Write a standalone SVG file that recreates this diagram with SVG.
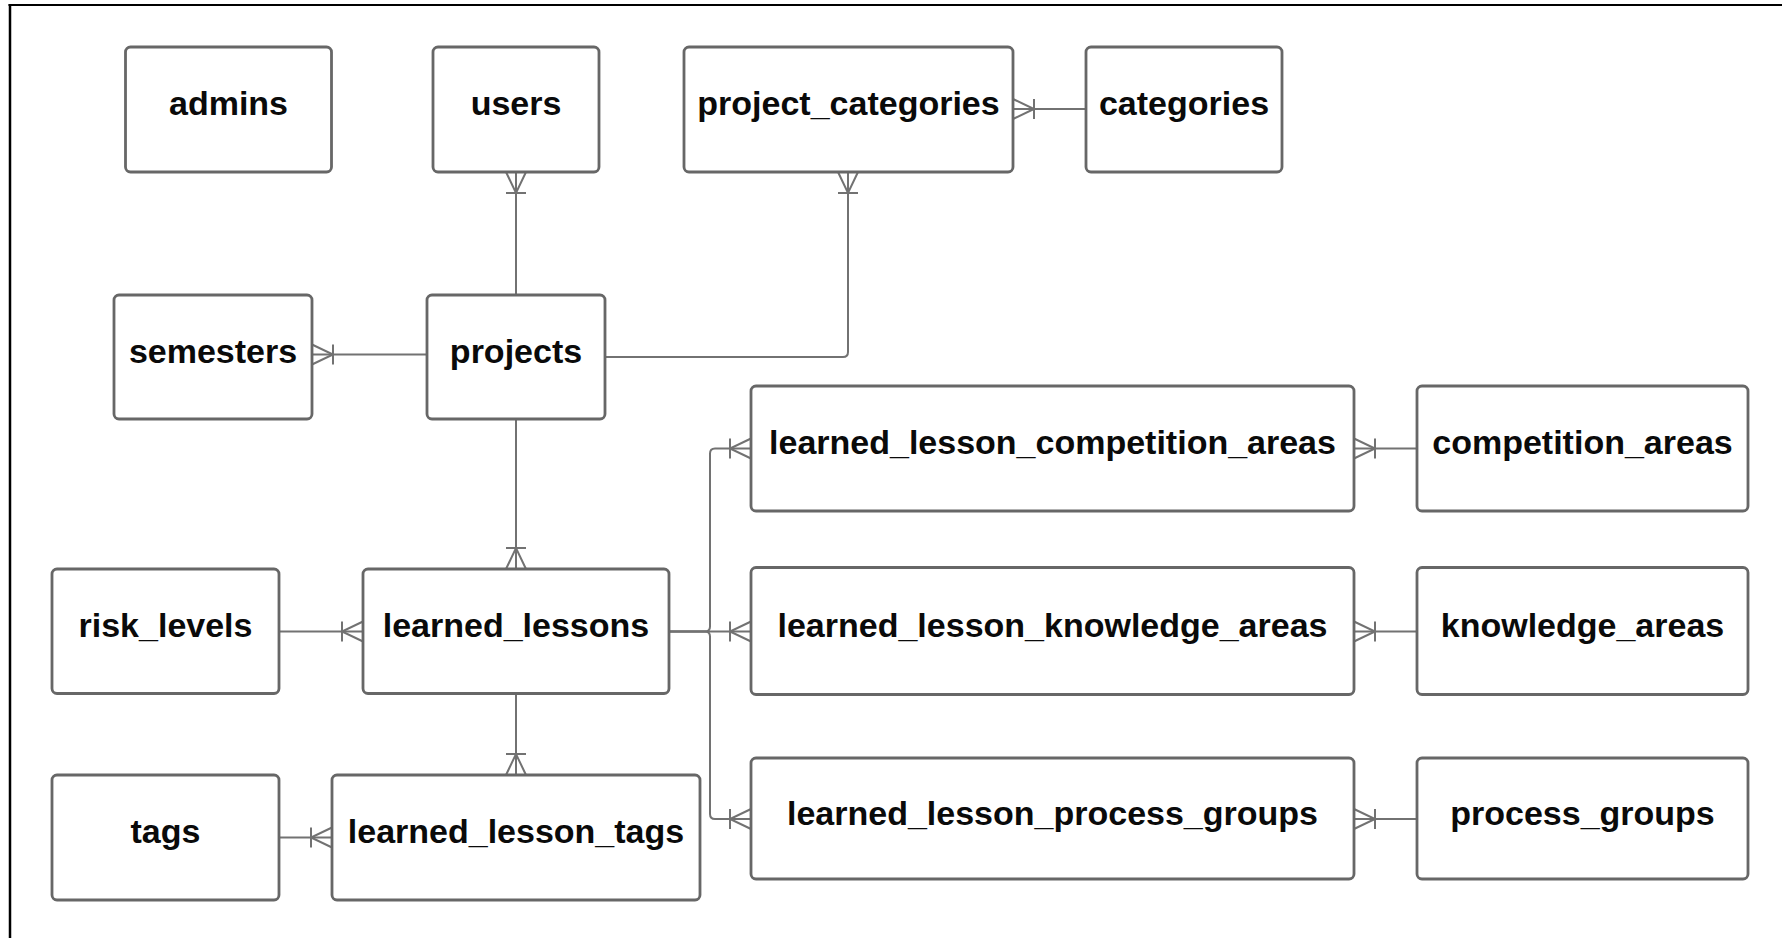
<svg xmlns="http://www.w3.org/2000/svg" width="1782" height="938" viewBox="0 0 1782 938">
  <style>
    .box { fill: #ffffff; stroke: #676767; stroke-width: 2.8; }
    .lbl { font-family: "Liberation Sans", Arial, Helvetica, sans-serif; font-weight: bold; font-size: 34px; fill: #0a0a0a; text-anchor: middle; }
    .edge { fill: none; stroke: #727272; stroke-width: 2; marker-start: url(#crow); }
    .frame { stroke: #000000; fill: none; }
  </style>
  <defs>
    <!-- one-or-many crow's foot, drawn at the path start pointing away from the entity -->
    <marker id="crow" markerUnits="userSpaceOnUse" markerWidth="30" markerHeight="30" viewBox="-5 -15 30 30" refX="0" refY="0" orient="auto" overflow="visible">
      <path d="M0,-10 L21,0 L0,10 M21,-10 V10" fill="none" stroke="#727272" stroke-width="2"/>
    </marker>
  </defs>

  <rect width="1782" height="938" fill="#ffffff"/>

  <!-- outer frame edges -->
  <line class="frame" x1="8.5" y1="5" x2="1782" y2="5" stroke-width="2.2"/>
  <line class="frame" x1="10" y1="4" x2="10" y2="938" stroke-width="2.5"/>

  <!-- relationships -->
  <g id="connectors">
    <path class="edge" d="M516,172 V295"/>
    <path class="edge" d="M848,172 V352 Q848,357 843,357 H605"/>
    <path class="edge" d="M1013,109 H1086"/>
    <path class="edge" d="M312,354.5 H427"/>
    <path class="edge" d="M516,569 V419"/>
    <path class="edge" d="M363,631.5 H279"/>
    <path class="edge" d="M516,775 V693"/>
    <path class="edge" d="M332,837.5 H279"/>
    <path class="edge" d="M751,448.5 H715 Q710,448.5 710,453.5 V626.5 Q710,631.5 705,631.5 H669"/>
    <path class="edge" d="M751,631.5 H669"/>
    <path class="edge" d="M751,819 H715 Q710,819 710,814 V636.5 Q710,631.5 705,631.5 H669"/>
    <path class="edge" d="M1354,448.5 H1417"/>
    <path class="edge" d="M1354,631.5 H1417"/>
    <path class="edge" d="M1354,819 H1417"/>
  </g>

  <!-- entities -->
  <g id="admins">
    <rect class="box" x="125.5" y="47" width="206" height="125" rx="5"/>
    <text class="lbl" x="228.5" y="115">admins</text>
  </g>
  <g id="users">
    <rect class="box" x="433" y="47" width="166" height="125" rx="5"/>
    <text class="lbl" x="516" y="115">users</text>
  </g>
  <g id="project_categories">
    <rect class="box" x="684" y="47" width="329" height="125" rx="5"/>
    <text class="lbl" x="848.5" y="115">project_categories</text>
  </g>
  <g id="categories">
    <rect class="box" x="1086" y="47" width="196" height="125" rx="5"/>
    <text class="lbl" x="1184" y="115">categories</text>
  </g>
  <g id="semesters">
    <rect class="box" x="114" y="295" width="198" height="124" rx="5"/>
    <text class="lbl" x="213" y="362.5">semesters</text>
  </g>
  <g id="projects">
    <rect class="box" x="427" y="295" width="178" height="124" rx="5"/>
    <text class="lbl" x="516" y="362.5">projects</text>
  </g>
  <g id="risk_levels">
    <rect class="box" x="52" y="569" width="227" height="124.5" rx="5"/>
    <text class="lbl" x="165.5" y="637">risk_levels</text>
  </g>
  <g id="learned_lessons">
    <rect class="box" x="363" y="569" width="306" height="124.5" rx="5"/>
    <text class="lbl" x="516" y="637">learned_lessons</text>
  </g>
  <g id="tags">
    <rect class="box" x="52" y="775" width="227" height="125" rx="5"/>
    <text class="lbl" x="165.5" y="843">tags</text>
  </g>
  <g id="learned_lesson_tags">
    <rect class="box" x="332" y="775" width="368" height="125" rx="5"/>
    <text class="lbl" x="516" y="843">learned_lesson_tags</text>
  </g>
  <g id="learned_lesson_competition_areas">
    <rect class="box" x="751" y="386" width="603" height="125" rx="5"/>
    <text class="lbl" x="1052.5" y="453.5">learned_lesson_competition_areas</text>
  </g>
  <g id="learned_lesson_knowledge_areas">
    <rect class="box" x="751" y="567.5" width="603" height="127" rx="5"/>
    <text class="lbl" x="1052.5" y="637">learned_lesson_knowledge_areas</text>
  </g>
  <g id="learned_lesson_process_groups">
    <rect class="box" x="751" y="758" width="603" height="121" rx="5"/>
    <text class="lbl" x="1052.5" y="824.5">learned_lesson_process_groups</text>
  </g>
  <g id="competition_areas">
    <rect class="box" x="1417" y="386" width="331" height="125" rx="5"/>
    <text class="lbl" x="1582.5" y="453.5">competition_areas</text>
  </g>
  <g id="knowledge_areas">
    <rect class="box" x="1417" y="567.5" width="331" height="127" rx="5"/>
    <text class="lbl" x="1582.5" y="637">knowledge_areas</text>
  </g>
  <g id="process_groups">
    <rect class="box" x="1417" y="758" width="331" height="121" rx="5"/>
    <text class="lbl" x="1582.5" y="824.5">process_groups</text>
  </g>
</svg>
